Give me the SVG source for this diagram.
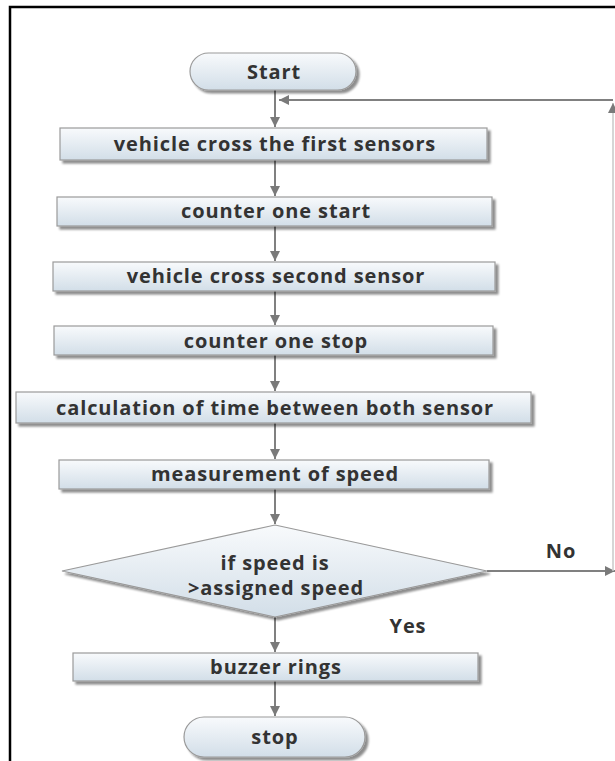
<svg xmlns="http://www.w3.org/2000/svg" width="615" height="761" viewBox="0 0 615 761">
<defs>
<linearGradient id="g" x1="0" y1="0" x2="0" y2="1">
<stop offset="0" stop-color="#f8fafc"/>
<stop offset="1" stop-color="#d2dee8"/>
</linearGradient>
<filter id="sh" x="-5%" y="-20%" width="115%" height="160%">
<feGaussianBlur in="SourceAlpha" stdDeviation="1.2"/>
<feOffset dx="3" dy="3" result="b"/>
<feComponentTransfer><feFuncA type="linear" slope="0.45"/></feComponentTransfer>
<feMerge><feMergeNode/><feMergeNode in="SourceGraphic"/></feMerge>
</filter>
<marker id="ah" viewBox="0 0 10 10" refX="10" refY="5" markerWidth="10" markerHeight="10" markerUnits="userSpaceOnUse" orient="auto">
<path d="M0,0 L10,5 L0,10 z" fill="#7a7a7a"/>
</marker>
</defs>
<style>
.n{fill:url(#g);stroke:#9a9a9a;stroke-width:1.2;filter:url(#sh)}
.t{font-family:"Open Sans","DejaVu Sans",sans-serif;font-weight:bold;font-size:20px;letter-spacing:0.9px;fill:#333;text-anchor:middle}
.c{stroke:#808080;stroke-width:2;fill:none;marker-end:url(#ah)}
</style>
<rect width="615" height="761" fill="#fff"/>
<path d="M10,761 V7 H615" fill="none" stroke="#000" stroke-width="2.5"/>
<g id="connectors">
<line class="c" x1="275" y1="90" x2="275" y2="127"/>
<line class="c" x1="275" y1="160" x2="275" y2="196"/>
<line class="c" x1="275" y1="226" x2="275" y2="261"/>
<line class="c" x1="275" y1="291" x2="275" y2="325"/>
<line class="c" x1="275" y1="355" x2="275" y2="391"/>
<line class="c" x1="275" y1="423" x2="275" y2="459"/>
<line class="c" x1="275" y1="489" x2="275" y2="524"/>
<line class="c" x1="275" y1="617" x2="275" y2="652"/>
<line class="c" x1="275" y1="681" x2="275" y2="716"/>
<line class="c" x1="487" y1="571" x2="615" y2="571"/>
<line class="c" x1="613" y1="571" x2="613" y2="103" style="stroke:#c8c8c8;stroke-width:1.5"/>
<line class="c" x1="613" y1="100" x2="279" y2="100"/>
</g>
<g id="start"><rect class="n" x="190" y="53" width="166" height="37" rx="18.5"/><text class="t" x="274" y="79">Start</text></g>
<g id="n1"><rect class="n" x="60" y="128" width="427" height="32"/><text class="t" x="275" y="151">vehicle cross the first sensors</text></g>
<g id="n2"><rect class="n" x="57" y="197" width="435" height="29"/><text class="t" x="276" y="218">counter one start</text></g>
<g id="n3"><rect class="n" x="53" y="262" width="442" height="29"/><text class="t" x="276" y="283">vehicle cross second sensor</text></g>
<g id="n4"><rect class="n" x="54" y="326" width="439" height="29"/><text class="t" x="276" y="348">counter one stop</text></g>
<g id="n5"><rect class="n" x="16" y="392" width="515" height="31"/><text class="t" x="275" y="415">calculation of time between both sensor</text></g>
<g id="n6"><rect class="n" x="59" y="460" width="430" height="29"/><text class="t" x="275" y="481">measurement of speed</text></g>
<g id="decision"><polygon class="n" points="275,525 487,571 275,617 62,571"/><text class="t" x="275" y="570">if speed is</text><text class="t" x="276" y="595">&gt;assigned speed</text></g>
<g id="n7"><rect class="n" x="73" y="653" width="405" height="28"/><text class="t" x="276" y="674">buzzer rings</text></g>
<g id="stop"><rect class="n" x="184" y="717" width="181" height="40" rx="20"/><text class="t" x="275" y="744">stop</text></g>
<text class="t" x="561" y="558">No</text>
<text class="t" x="408" y="633">Yes</text>
</svg>
